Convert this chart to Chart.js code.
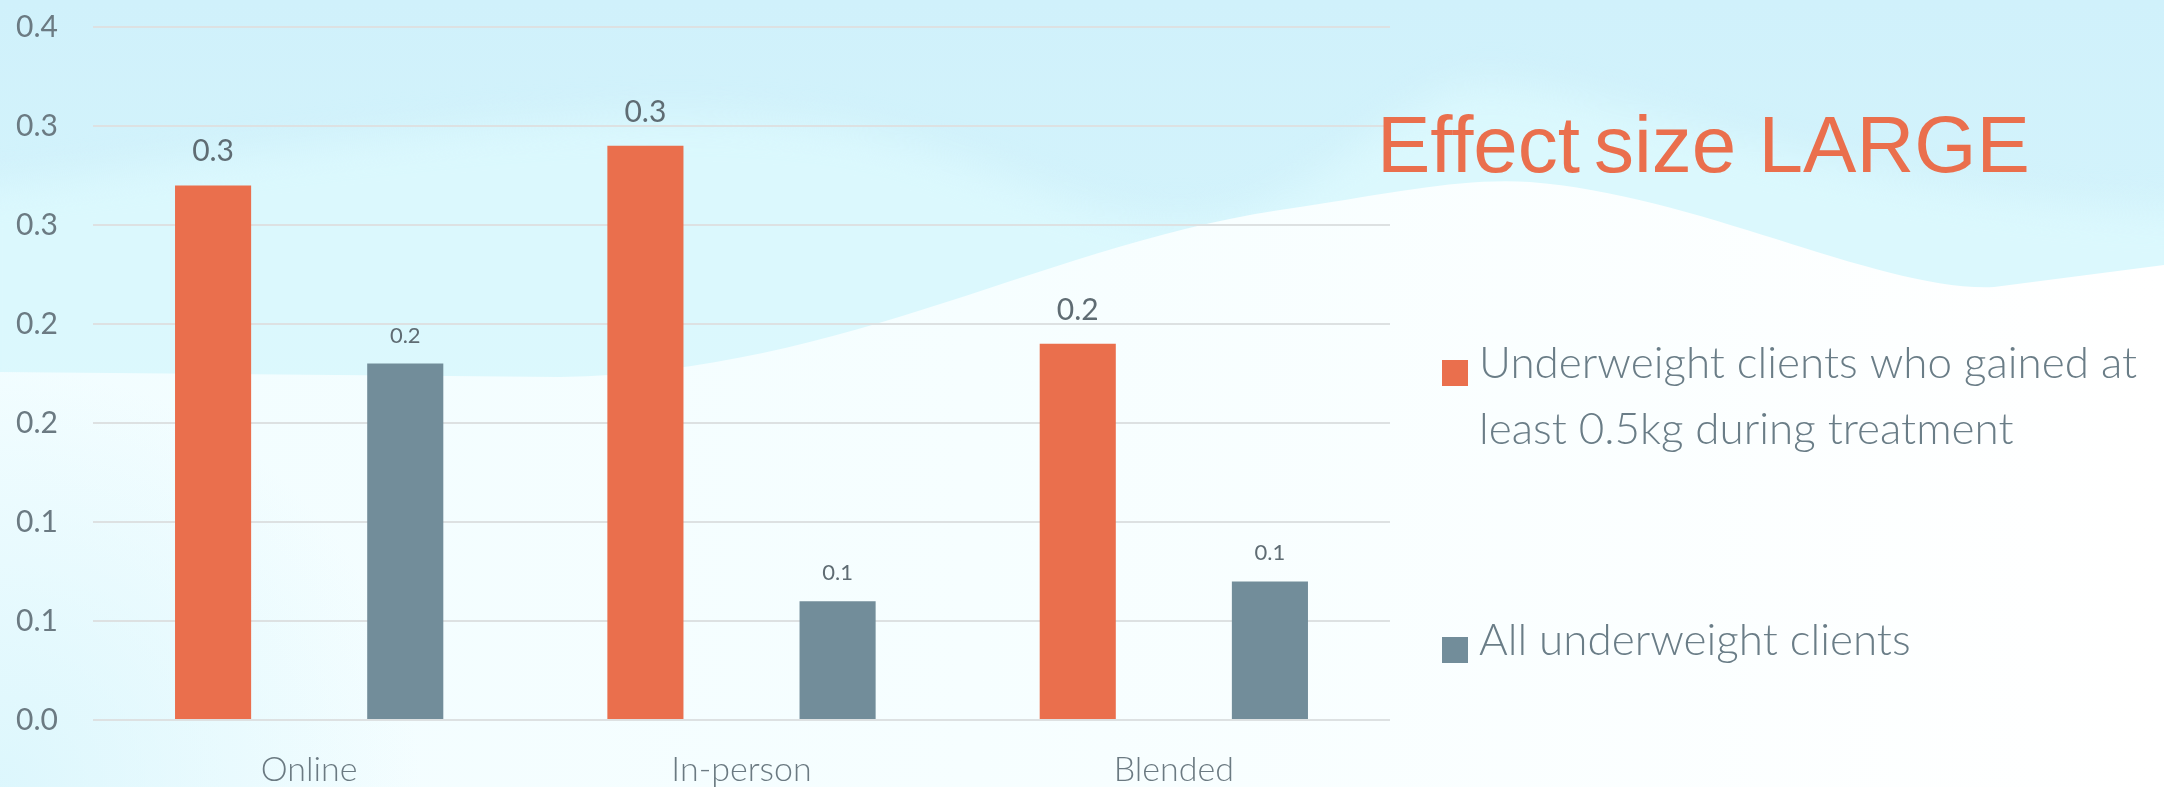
<!DOCTYPE html>
<html>
<head>
<meta charset="utf-8">
<title>Effect size LARGE</title>
<script src="https://cdn.jsdelivr.net/npm/chart.js@4.4.1/dist/chart.umd.min.js"></script>
<style>
  html, body { margin: 0; padding: 0; background: #fff; }
  #chart { display: block; }
</style>
</head>
<body>
<canvas id="chart" width="2164" height="787"></canvas>
<script>
  // categories and series
  const categories = ['Online', 'In-person', 'Blended'];
  const gainedValues = [0.27, 0.29, 0.19];
  const allValues = [0.18, 0.06, 0.07];
  const seriesNames = [
    'Underweight clients who gained at least 0.5kg during treatment',
    'All underweight clients'
  ];
  // legend text broken the way it wraps beside the chart
  const legendLines = [
    ['Underweight clients who gained at', 'least 0.5kg during treatment'],
    ['All underweight clients']
  ];
  const titleParts = ['Effect', 'size LARGE'];
  const yMax = 0.35;
  const yStep = 0.05;

  const orange = '#EA6F4D';
  const slate = '#728D9A';
  const textGrey = '#6B7A82';

  // one decimal, halves go up (0.05 -> 0.1, 0.35 -> 0.4); the epsilon
  // absorbs float noise in generated tick values
  const oneDecimal = v => (Math.round(v * 10 + 1e-7) / 10).toFixed(1);

  // soft sky with waves behind everything
  const backdrop = {
    id: 'backdrop',
    beforeDraw(chart) {
      const { ctx, width, height } = chart;
      ctx.save();
      let g = ctx.createLinearGradient(0, 0, 0, height);
      g.addColorStop(0, '#D0F1FB');
      g.addColorStop(0.6, '#D6F5FC');
      g.addColorStop(1, '#E0F8FD');
      ctx.fillStyle = g;
      ctx.fillRect(0, 0, width, height);

      // lighter swell through the middle, edges feathered
      ctx.save();
      ctx.filter = 'blur(18px)';
      ctx.fillStyle = 'rgba(222, 250, 253, 0.75)';
      ctx.beginPath();
      ctx.moveTo(-40, 190);
      ctx.bezierCurveTo(250, 160, 600, 90, 850, 130);
      ctx.bezierCurveTo(1000, 160, 1090, 226, 1190, 222);
      ctx.bezierCurveTo(1320, 216, 1400, 80, 1490, 84);
      ctx.bezierCurveTo(1650, 94, 1850, 205, width + 40, 212);
      ctx.lineTo(width + 40, height + 40);
      ctx.lineTo(-40, height + 40);
      ctx.closePath();
      ctx.fill();
      ctx.restore();

      // white foreground wave
      g = ctx.createLinearGradient(0, 0, width, 0);
      g.addColorStop(0, '#F2FDFF');
      g.addColorStop(0.45, '#F6FEFF');
      g.addColorStop(1, '#FFFFFF');
      ctx.fillStyle = g;
      ctx.beginPath();
      ctx.moveTo(0, 372);
      ctx.lineTo(560, 377);
      ctx.bezierCurveTo(850, 372, 1050, 240, 1300, 207);
      ctx.bezierCurveTo(1400, 192, 1460, 178, 1530, 182);
      ctx.bezierCurveTo(1700, 195, 1880, 292, 1994, 287);
      ctx.lineTo(width, 265);
      ctx.lineTo(width, height);
      ctx.lineTo(0, height);
      ctx.closePath();
      ctx.fill();

      // faint cyan haze in the lower left corner
      const r = ctx.createRadialGradient(0, height, 0, 0, height, 420);
      r.addColorStop(0, 'rgba(215, 245, 252, 0.8)');
      r.addColorStop(1, 'rgba(215, 245, 252, 0)');
      ctx.fillStyle = r;
      ctx.fillRect(0, height - 420, 420, 420);
      ctx.restore();
    }
  };

  // big heading on the right
  const heading = {
    id: 'heading',
    afterDraw(chart, args, opts) {
      const ctx = chart.ctx;
      ctx.save();
      ctx.font = '80px "Liberation Sans", Arial, sans-serif';
      ctx.fillStyle = opts.color;
      ctx.textBaseline = 'alphabetic';
      ctx.textAlign = 'left';
      let x = opts.x;
      opts.parts.forEach(part => {
        ctx.fillText(part, x, opts.y);
        x += ctx.measureText(part).width + opts.gap;
      });
      ctx.restore();
    }
  };

  // legend drawn from the datasets, text wrapped over lines
  const sideLegend = {
    id: 'sideLegend',
    afterDraw(chart, args, opts) {
      const ctx = chart.ctx;
      ctx.save();
      ctx.font = opts.font;
      ctx.textBaseline = 'alphabetic';
      ctx.textAlign = 'left';
      chart.data.datasets.forEach((ds, i) => {
        const base = opts.baselines[i];
        ctx.fillStyle = ds.backgroundColor;
        ctx.fillRect(opts.boxX, base - 18, opts.boxSize, opts.boxSize);
        ctx.fillStyle = opts.color;
        legendLines[i].forEach((line, j) => {
          ctx.fillText(line, opts.textX, base + j * opts.lineHeight);
        });
      });
      ctx.restore();
    }
  };

  // value labels above each bar
  const barValues = {
    id: 'barValues',
    afterDatasetsDraw(chart, args, opts) {
      const ctx = chart.ctx;
      ctx.save();
      ctx.textAlign = 'center';
      ctx.textBaseline = 'alphabetic';
      ctx.fillStyle = opts.color;
      chart.data.datasets.forEach((ds, i) => {
        ctx.font = opts.sizes[i] + 'px Lato, sans-serif';
        chart.getDatasetMeta(i).data.forEach((bar, k) => {
          ctx.fillText(oneDecimal(ds.data[k]), bar.x, bar.y - opts.offsets[i]);
        });
      });
      ctx.restore();
    }
  };

  const chartData = {
    labels: categories,
    datasets: [
      { label: seriesNames[0], data: gainedValues, backgroundColor: orange },
      { label: seriesNames[1], data: allValues, backgroundColor: slate }
    ]
  };

  const chartOptions = {
    responsive: false,
    animation: false,
    layout: { padding: { left: 0, right: 774, top: 27, bottom: 0 } },
    datasets: {
      bar: { categoryPercentage: 0.889, barPercentage: 0.396 }
    },
    scales: {
      x: {
        grid: { display: false },
        border: { display: false },
        ticks: {
          color: textGrey,
          font: { family: 'Lato, sans-serif', size: 34, weight: 300 },
          padding: 22
        },
        afterFit(scale) { scale.height = 67; }
      },
      y: {
        min: 0,
        max: yMax,
        grid: { color: '#DDE1E2', lineWidth: 2, drawTicks: false },
        border: { display: false },
        ticks: {
          stepSize: yStep,
          color: textGrey,
          font: { family: 'Lato, sans-serif', size: 30 },
          padding: 35,
          callback: v => oneDecimal(v)
        },
        afterFit(scale) {
          // tick padding would otherwise push the plot down from the top
          scale.width = 93;
          scale.paddingTop = 0;
          scale.paddingBottom = 0;
        }
      }
    },
    plugins: {
      legend: { display: false },
      tooltip: { enabled: false },
      heading: { parts: titleParts, x: 1377, y: 172, gap: 14, color: '#EA6F4D' },
      sideLegend: {
        font: '300 44px Lato, sans-serif',
        color: '#6A7D87',
        boxX: 1442,
        boxSize: 26,
        textX: 1479,
        baselines: [378, 655],
        lineHeight: 66
      },
      barValues: { color: '#5F6C73', sizes: [30, 22], offsets: [24, 21] }
    }
  };

  new Chart(document.getElementById('chart'), {
    type: 'bar',
    data: chartData,
    options: chartOptions,
    plugins: [backdrop, heading, sideLegend, barValues]
  });
</script>
</body>
</html>
